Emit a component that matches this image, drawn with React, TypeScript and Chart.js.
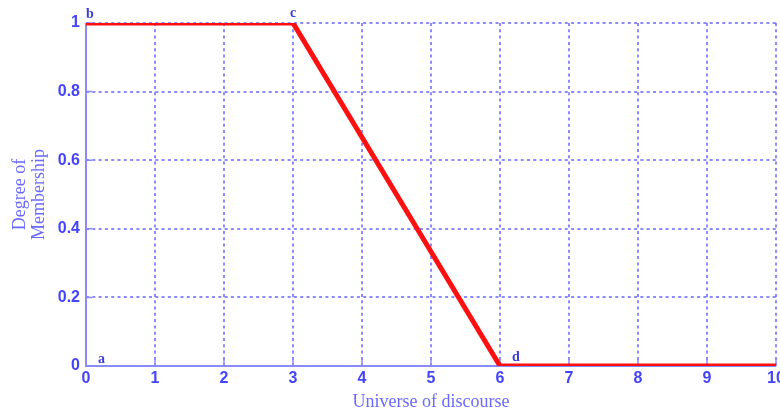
import React, { useEffect, useRef } from "react";
import { Chart, registerables } from "chart.js";

Chart.register(...registerables);

const xValues = [0, 3, 6, 10];
const membership = [1, 1, 0, 0];
const pointNames = ["a", "b", "c", "d"];
const pointX = [0, 0, 3, 6];
const pointY = [0, 1, 1, 0];
const xTitle = "Universe of discourse";
const yTitle = ["Degree of", "Membership"];

const TICK_COLOR = "#4444ff";
const TITLE_COLOR = "#6a6aff";
const GRID_COLOR = "rgba(110,110,255,0.8)";
const AXIS_COLOR = "#8a8aff";

const decorPlugin = {
  id: "decor",
  beforeDatasetsDraw(chart: any) {
    const { ctx, chartArea, scales } = chart;
    const xs = scales.x;
    const ys = scales.y;
    ctx.save();
    ctx.setLineDash([]);
    ctx.strokeStyle = AXIS_COLOR;
    ctx.lineWidth = 2;
    ctx.beginPath();
    ctx.moveTo(chartArea.left, chartArea.top);
    ctx.lineTo(chartArea.left, chartArea.bottom);
    ctx.lineTo(chartArea.right, chartArea.bottom);
    ctx.stroke();
    ctx.lineWidth = 1.5;
    ctx.beginPath();
    xs.ticks.forEach((t: any) => {
      const px = xs.getPixelForValue(t.value);
      ctx.moveTo(px, chartArea.bottom);
      ctx.lineTo(px, chartArea.bottom - 6);
    });
    ys.ticks.forEach((t: any) => {
      const py = ys.getPixelForValue(t.value);
      ctx.moveTo(chartArea.left, py);
      ctx.lineTo(chartArea.left + 6, py);
    });
    ctx.stroke();
    ctx.restore();
  },
  afterDraw(chart: any) {
    const { ctx, chartArea, scales } = chart;
    const xs = scales.x;
    const ys = scales.y;
    ctx.save();
    // point labels
    ctx.fillStyle = "#3c3cdc";
    ctx.font = "bold 14px 'Liberation Serif', 'DejaVu Serif', serif";
    ctx.textBaseline = "alphabetic";
    const offs: Record<string, [number, number, CanvasTextAlign]> = {
      a: [12, -3, "left"],
      b: [0, -5, "left"],
      c: [0, -6, "center"],
      d: [12, -5, "left"],
    };
    pointNames.forEach((n, i) => {
      const o = offs[n];
      ctx.textAlign = o[2];
      ctx.fillText(n, xs.getPixelForValue(pointX[i]) + o[0], ys.getPixelForValue(pointY[i]) + o[1]);
    });
    // axis titles
    ctx.fillStyle = TITLE_COLOR;
    ctx.font = "18px 'Liberation Serif', 'DejaVu Serif', serif";
    ctx.textAlign = "center";
    ctx.textBaseline = "middle";
    const cx = (chartArea.left + chartArea.right) / 2;
    ctx.fillText(xTitle, cx, chartArea.bottom + 36);
    const cy = (chartArea.top + chartArea.bottom) / 2;
    ctx.translate(0, cy);
    ctx.rotate(-Math.PI / 2);
    ctx.fillText(yTitle[0], 0, 20);
    ctx.fillText(yTitle[1], 0, 39);
    ctx.restore();
  },
};

export default function App() {
  const ref = useRef<HTMLCanvasElement | null>(null);
  useEffect(() => {
    if (!ref.current) return;
    const chart = new Chart(ref.current, {
      type: "scatter",
      data: {
        datasets: [
          {
            data: xValues.map((x, i) => ({ x, y: membership[i] })),
            showLine: true,
            borderColor: "#ff1010",
            borderWidth: 5,
            pointRadius: 0,
            fill: false,
            tension: 0,
          },
        ],
      },
      options: {
        responsive: false,
        animation: false,
        layout: { padding: { left: 0, top: 23, right: 24, bottom: 0 } },
        plugins: { legend: { display: false }, tooltip: { enabled: false } },
        scales: {
          x: {
            type: "linear",
            min: 0,
            max: 10,
            afterFit: (s: any) => {
              s.height = 44;
            },
            ticks: {
              stepSize: 1,
              color: TICK_COLOR,
              font: { family: "'Liberation Sans', Arial, sans-serif", size: 16, weight: "bold" },
              padding: 3,
              maxRotation: 0,
              callback: (v: any) => String(v),
            },
            grid: {
              drawTicks: false,
              color: (c: any) => (c.tick && c.tick.value === 0 ? "rgba(0,0,0,0)" : GRID_COLOR),
              lineWidth: 2,
            },
            border: { display: false, dash: [3, 3.3] },
          },
          y: {
            type: "linear",
            min: 0,
            max: 1,
            afterFit: (s: any) => {
              s.width = 86;
            },
            ticks: {
              stepSize: 0.2,
              color: TICK_COLOR,
              font: { family: "'Liberation Sans', Arial, sans-serif", size: 16, weight: "bold" },
              padding: 6,
              callback: (v: any) => String(Math.round(v * 10) / 10),
            },
            grid: {
              drawTicks: false,
              color: (c: any) => (c.tick && c.tick.value === 0 ? "rgba(0,0,0,0)" : GRID_COLOR),
              lineWidth: 2,
            },
            border: { display: false, dash: [3, 3.3] },
          },
        },
      },
      plugins: [decorPlugin],
    });
    return () => chart.destroy();
  }, []);
  return (
    <div
      style={{
        position: "absolute",
        left: 0,
        top: 0,
        width: 780,
        height: 410,
        overflow: "hidden",
        background: "#ffffff",
      }}
    >
      <canvas ref={ref} width={800} height={410} style={{ width: 800, height: 410, display: "block" }} />
    </div>
  );
}
